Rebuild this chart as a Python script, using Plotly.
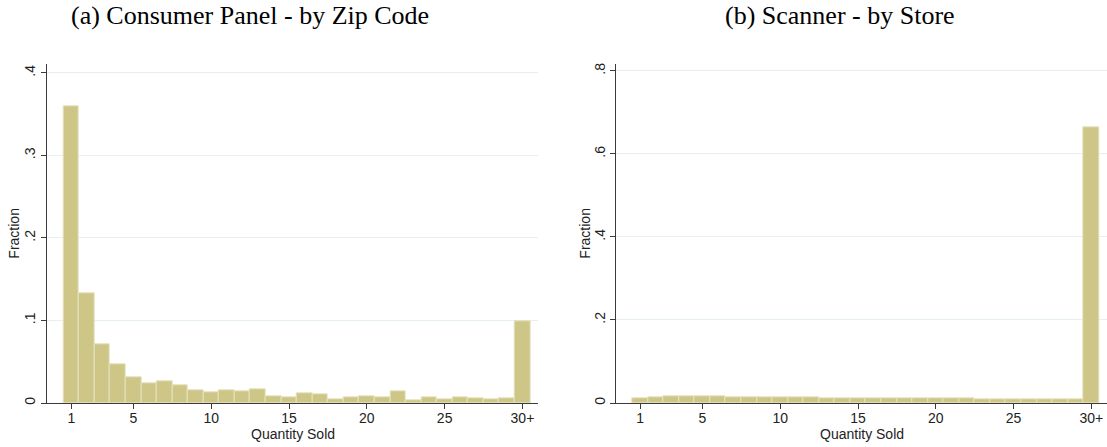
import plotly.graph_objects as go

# ---- data ----
quantity = list(range(1, 31))
x_tick_vals = [1, 5, 10, 15, 20, 25, 30]
x_tick_text = ["1", "5", "10", "15", "20", "25", "30+"]

panel_fraction = [0.360, 0.133, 0.071, 0.047, 0.031, 0.024, 0.026, 0.022, 0.0154, 0.0135,
                  0.0154, 0.0141, 0.0166, 0.0081, 0.0075, 0.0113, 0.0107, 0.0044, 0.0068, 0.0087,
                  0.0073, 0.0138, 0.0032, 0.0068, 0.0045, 0.0068, 0.0056, 0.0040, 0.0056, 0.0993]

scanner_fraction = [0.0113, 0.0143, 0.0160, 0.0160, 0.0160, 0.0168, 0.0130, 0.0130, 0.0130, 0.0130,
                    0.0130, 0.0137, 0.0115, 0.0113, 0.0112, 0.0112, 0.0112, 0.0112, 0.0108, 0.0108,
                    0.0105, 0.0102, 0.0100, 0.0100, 0.0092, 0.0090, 0.0090, 0.0090, 0.0090, 0.664]

left_y_vals = [0, 0.1, 0.2, 0.3, 0.4]
left_y_text = ["0", ".1", ".2", ".3", ".4"]
right_y_vals = [0, 0.2, 0.4, 0.6, 0.8]
right_y_text = ["0", ".2", ".4", ".6", ".8"]

titles = ["(a) Consumer Panel - by Zip Code", "(b) Scanner - by Store"]
x_title = "Quantity Sold"
y_title = "Fraction"

W, H = 1107, 447
bar_color = "rgb(205,198,134)"
edge_color = "rgb(230,226,190)"
axis_color = "#3a3a3a"
grid_color = "#e6eff1"
text_color = "#222"
sans = "Liberation Sans, Arial, Helvetica, sans-serif"
serif = "Liberation Serif, Times New Roman, serif"

fig = go.Figure()
fig.add_trace(go.Bar(x=quantity, y=panel_fraction, width=1, xaxis="x", yaxis="y",
                     marker=dict(color=bar_color, line=dict(color=edge_color, width=1)),
                     showlegend=False))
fig.add_trace(go.Bar(x=quantity, y=scanner_fraction, width=1, xaxis="x2", yaxis="y2",
                     marker=dict(color=bar_color, line=dict(color=edge_color, width=1)),
                     showlegend=False))

def px_x(p):
    return p / W

def px_y(p):
    return (H - p) / H

ydom = [px_y(403), px_y(64.3)]
left_dom = [px_x(46.7), px_x(538.3)]
right_dom = [px_x(616.3), 1.0]

common_x = dict(tickvals=x_tick_vals, ticktext=x_tick_text, ticks="outside", ticklen=5,
                tickcolor=axis_color, showline=True, linecolor=axis_color, linewidth=1,
                showgrid=False, zeroline=False, tickfont=dict(family=sans, size=14, color=text_color),
                ticklabelstandoff=-3, automargin=False, fixedrange=True)
common_y = dict(ticks="outside", ticklen=5, tickcolor=axis_color, showline=True, linecolor=axis_color,
                linewidth=1, showgrid=True, gridcolor=grid_color, gridwidth=1, zeroline=False,
                tickangle=-90, tickfont=dict(family=sans, size=14, color=text_color),
                automargin=False, fixedrange=True)

annotations = []
for t, cx in zip(titles, [250, 840]):
    annotations.append(dict(text=t, x=px_x(cx), y=px_y(16), xref="paper", yref="paper", showarrow=False,
                            xanchor="center", yanchor="middle",
                            font=dict(family=serif, size=26, color="black")))
for dom, yx in zip([left_dom, right_dom], [14, 585]):
    annotations.append(dict(text=x_title, x=(dom[0] + dom[1]) / 2, y=px_y(434), xref="paper", yref="paper",
                            showarrow=False, xanchor="center", yanchor="middle",
                            font=dict(family=sans, size=14, color=text_color)))
    annotations.append(dict(text=y_title, x=px_x(yx), y=(ydom[0] + ydom[1]) / 2, xref="paper", yref="paper",
                            showarrow=False, xanchor="center", yanchor="middle", textangle=-90,
                            font=dict(family=sans, size=14, color=text_color)))

fig.update_layout(
    width=W, height=H, autosize=False,
    margin=dict(l=0, r=0, t=0, b=0),
    paper_bgcolor="white", plot_bgcolor="white",
    bargap=0,
    xaxis=dict(domain=left_dom, range=[-0.58, 31.02], anchor="y", **common_x),
    yaxis=dict(domain=ydom, range=[0, 0.4105], anchor="x", tickvals=left_y_vals, ticktext=left_y_text, **common_y),
    xaxis2=dict(domain=right_dom, range=[-0.54, 31.01], anchor="y2", **common_x),
    yaxis2=dict(domain=ydom, range=[0, 0.816], anchor="x2", tickvals=right_y_vals, ticktext=right_y_text, **common_y),
    annotations=annotations,
)

fig.write_html("out.html")
